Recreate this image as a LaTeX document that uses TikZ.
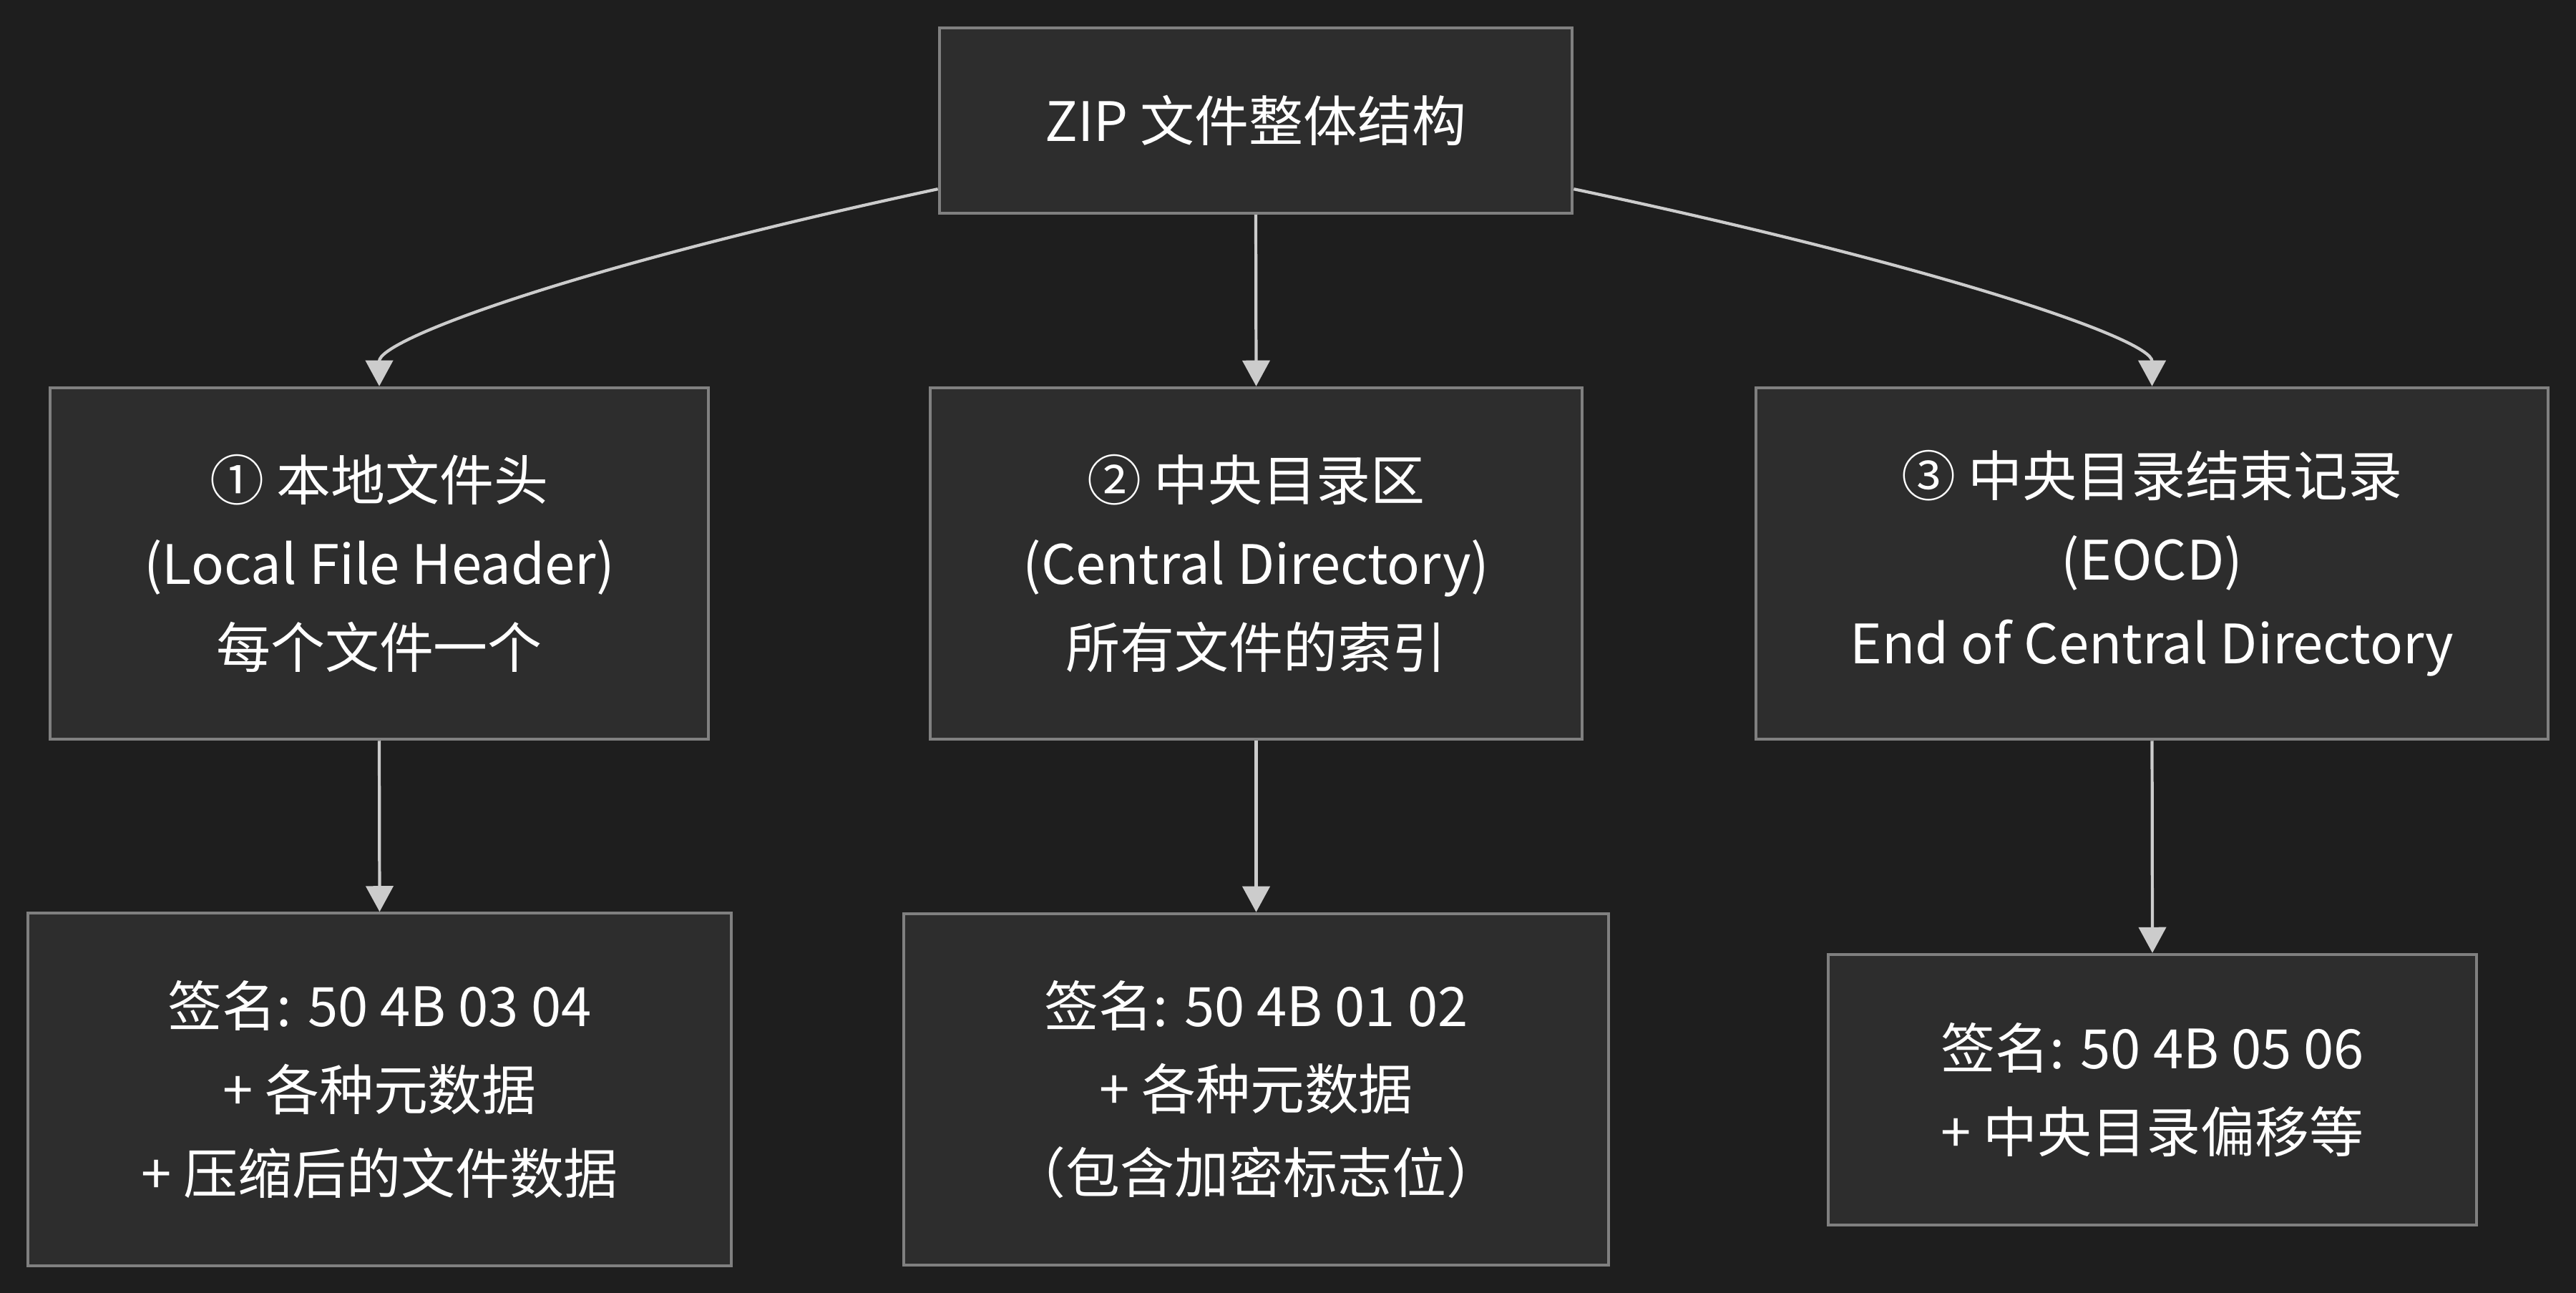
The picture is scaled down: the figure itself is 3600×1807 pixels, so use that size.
\documentclass[tikz,border=0pt]{standalone}
\usepackage{fontspec}
\setmainfont{Noto Sans CJK SC}
\usetikzlibrary{arrows.meta,calc}
\definecolor{bgc}{RGB}{30,30,30}
\definecolor{boxfill}{RGB}{45,45,45}
\definecolor{boxdraw}{RGB}{128,128,128}
\definecolor{linec}{RGB}{204,204,204}
\begin{document}
\begin{tikzpicture}[x=0.01cm,y=-0.01cm,
  box/.style={draw=boxdraw,fill=boxfill,line width=1.2pt,text=white,align=center,inner sep=0pt,
    font=\fontsize{21.6}{33.2}\selectfont},
  conn/.style={draw=linec,line width=1.2pt,-{Triangle[length=0.36cm,width=0.38cm]}}]
\fill[bgc] (0,0) rectangle (3600,1807);
\useasboundingbox (0,0) rectangle (3600,1807);

\node[box,minimum width=8.84cm,minimum height=2.59cm] (top) at (1755,168.5) {ZIP 文件整体结构};
\node[box,minimum width=9.19cm,minimum height=4.91cm] (n1) at (530,787.5) {① 本地文件头\\(Local File Header)\\每个文件一个};
\node[box,minimum width=9.11cm,minimum height=4.91cm] (n2) at (1755.5,787.5) {② 中央目录区\\(Central Directory)\\所有文件的索引};
\node[box,minimum width=11.07cm,minimum height=4.91cm] (n3) at (3007.5,787.5) {③ 中央目录结束记录\\(EOCD)\\End of Central Directory};
\node[box,minimum width=9.83cm,minimum height=4.92cm] (n4) at (530.5,1522.5) {签名: 50 4B 03 04\\+ 各种元数据\\+ 压缩后的文件数据};
\node[box,minimum width=9.85cm,minimum height=4.91cm] (n5) at (1755.5,1522.5) {签名: 50 4B 01 02\\+ 各种元数据\\（包含加密标志位）};
\node[box,minimum width=9.06cm,minimum height=3.78cm] (n6) at (3008,1523) {签名: 50 4B 05 06\\+ 中央目录偏移等};

\draw[conn] ($(top.south west)+(0,-36)$) .. controls +(-513,110) and +(0,-65) .. (n1.north);
\draw[conn] (top.south) -- (n2.north);
\draw[conn] ($(top.south east)+(0,-36)$) .. controls +(520,110) and +(0,-65) .. (n3.north);
\draw[conn] (n1.south) -- (n4.north);
\draw[conn] (n2.south) -- (n5.north);
\draw[conn] (n3.south) -- (n6.north);
\end{tikzpicture}
\end{document}
